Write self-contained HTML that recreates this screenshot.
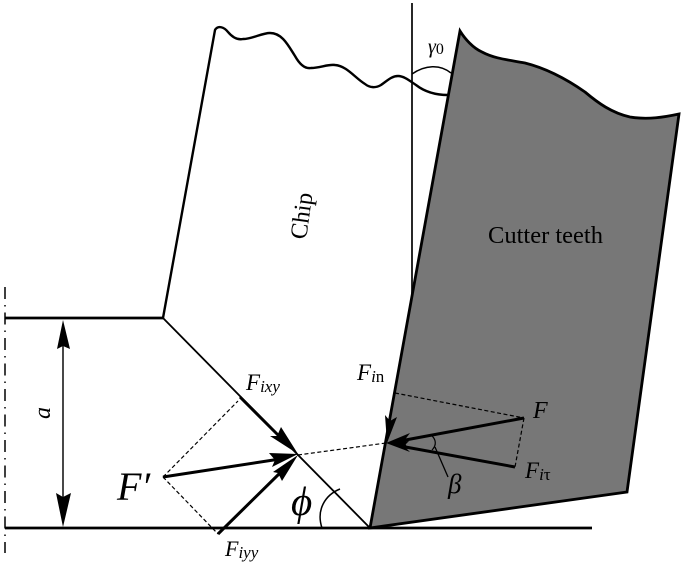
<!DOCTYPE html>
<html>
<head>
<meta charset="utf-8">
<style>
html,body{margin:0;padding:0;background:#fff;width:685px;height:578px;overflow:hidden}
svg{display:block}
text{font-family:"Liberation Serif",serif;fill:#000}
</style>
</head>
<body>
<svg width="685" height="578" viewBox="0 0 685 578" xmlns="http://www.w3.org/2000/svg">
<!-- vertical reference -->
<line x1="412" y1="3" x2="412" y2="300" stroke="#111" stroke-width="1.8"/>
<!-- tool -->
<path d="M370 528 L460 31 C465 39 473 48 482 52 C495 59 510 60 525 63 C545 68 565 78 585 92 C598 103 612 113 630 117 C648 120 665 117 679 114 L627 492 Z" fill="#777" stroke="#000" stroke-width="2.8" stroke-linejoin="miter"/>
<!-- chip -->
<path d="M163 318 L215 30 C218 25 224 27 228 32 C233 38 238 40 243 39 C252 39 262 33 270 33 C282 33 288 45 295 56 C300 65 305 69 311 68 C320 68 328 64 335 65 C347 66 355 78 365 84 C370 88 376 88 381 85 C388 80 392 76 398 76 C404 76 410 81 416 85 C425 92 435 95 448 95" fill="none" stroke="#000" stroke-width="2.4"/>
<path d="M412 74 C425 65 440 64 451 73" fill="none" stroke="#000" stroke-width="1.5"/>
<!-- workpiece -->
<line x1="5" y1="318" x2="163" y2="318" stroke="#000" stroke-width="2.8"/>
<line x1="163" y1="318" x2="370" y2="528" stroke="#000" stroke-width="1.8"/>
<line x1="5" y1="528" x2="592" y2="528" stroke="#000" stroke-width="2.8"/>
<line x1="5" y1="287" x2="5" y2="553" stroke="#000" stroke-width="1.5" stroke-dasharray="12 6 1.5 6"/>
<!-- dimension a -->
<line x1="63" y1="340" x2="63" y2="510" stroke="#333" stroke-width="1.8"/>
<path d="M63 320 L70 349 L63 346 L57 349 Z" fill="#000"/>
<path d="M63 527 L56 493 L63 497 L71 493 Z" fill="#000"/>
<!-- dashed -->
<g stroke="#000" stroke-width="1.2" stroke-dasharray="4 2.5" fill="none">
<line x1="163" y1="477" x2="238" y2="401"/>
<line x1="163" y1="477" x2="218" y2="534"/>
<line x1="298" y1="455" x2="386" y2="443"/>
<line x1="395" y1="393" x2="524" y2="418"/>
<line x1="524" y1="418" x2="515" y2="467"/>
</g>
<!-- thick arrows -->
<g stroke="#000" stroke-width="3" fill="none">
<line x1="240" y1="397" x2="280" y2="437"/>
<line x1="163" y1="477" x2="280" y2="459"/>
<line x1="218" y1="534" x2="282" y2="471"/>
<line x1="524" y1="418" x2="400" y2="441"/>
<line x1="515" y1="467" x2="400" y2="446"/>
</g>
<path d="M298 454 L270 436 L277 436 L281 427 Z" fill="#000"/>
<path d="M298 454 L269 453 L275 460 L272 467 Z" fill="#000"/>
<path d="M298 455 L282 481 L278 473 L273 472 Z" fill="#000"/>
<path d="M386 443 L410 433 L404 441 L408 449 Z" fill="#000"/>
<path d="M386 443 L409 441 L404 446 L410 452 Z" fill="#000"/>
<path d="M387 443 L385 415 L390 421 L397 417 Z" fill="#000"/>
<!-- beta -->
<path d="M431 435 C436 439 437 445 432 450" fill="none" stroke="#000" stroke-width="1.2"/>
<line x1="435" y1="447" x2="448" y2="477" stroke="#000" stroke-width="1.3"/>
<!-- phi arc -->
<path d="M322 528 C316 510 325 495 340 489" fill="none" stroke="#000" stroke-width="1.5"/>
<!-- labels -->
<text x="488" y="243" font-size="24.5">Cutter teeth</text>
<text transform="translate(306 240) rotate(-82)" font-size="24">Chip</text>
<text x="428" y="53" font-size="20" font-style="italic">γ<tspan font-style="normal" font-size="16" dy="1">0</tspan></text>
<text transform="translate(50 419) rotate(-90)" font-size="24" font-style="italic">a</text>
<text x="117" y="500" font-size="40" font-style="italic">F′</text>
<text x="291" y="515" font-size="41" font-style="italic">ϕ</text>
<text x="246" y="390" font-size="23" font-style="italic">F<tspan font-size="17" dy="2">ixy</tspan></text>
<text x="225" y="556" font-size="22" font-style="italic">F<tspan font-size="17" dy="2">iyy</tspan></text>
<text x="357" y="380" font-size="23" font-style="italic">F<tspan font-size="17" dy="2">i</tspan><tspan font-size="17" font-style="normal">n</tspan></text>
<text x="533" y="418" font-size="24" font-style="italic">F</text>
<text x="525" y="478" font-size="23" font-style="italic">F<tspan font-size="17" dy="2">i</tspan><tspan font-size="17" font-style="normal">τ</tspan></text>
<text x="448" y="493" font-size="27" font-style="italic">β</text>
</svg>
</body>
</html>
